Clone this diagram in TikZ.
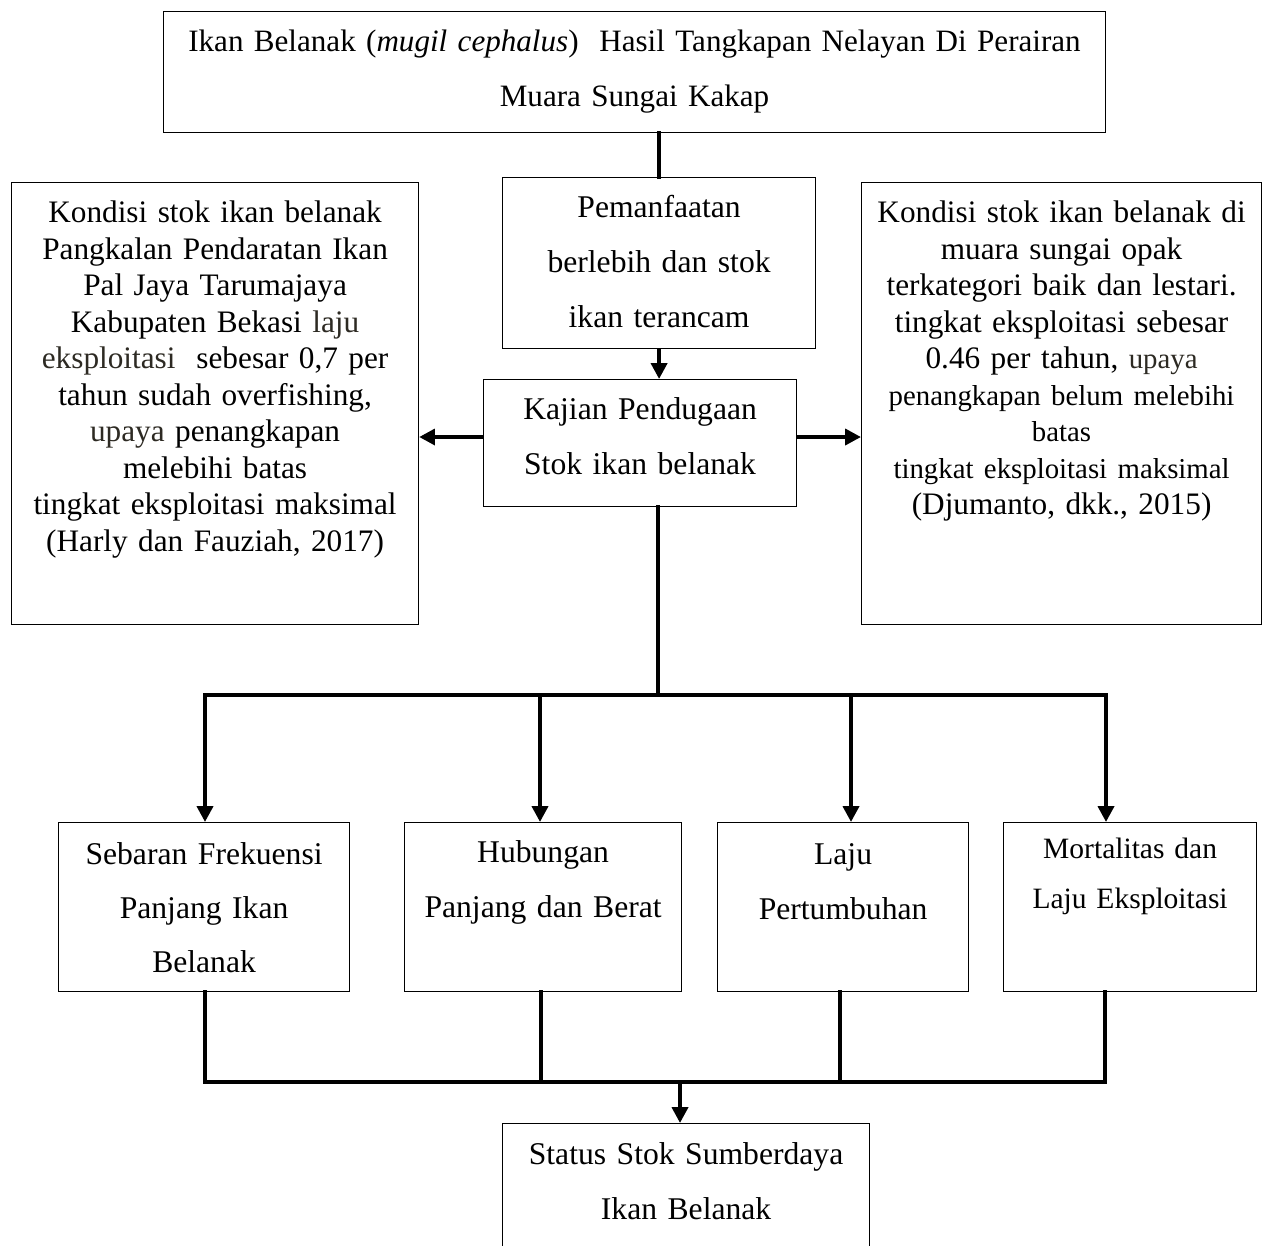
\documentclass[tikz,border=0pt]{standalone}
\usepackage{fontspec}
\setmainfont{Liberation Serif}
\usepackage{xcolor}
\usepackage{tikz}
\usetikzlibrary{positioning}
\usetikzlibrary{arrows.meta}
\usetikzlibrary{calc}

\definecolor{softblack}{RGB}{45,42,35}
\newcommand{\smallfs}{\fontsize{16.4pt}{18.5pt}\selectfont}

\begin{document}
\begin{tikzpicture}[x=0.02cm, y=-0.02cm,
            box/.style={draw=black, line width=0.7pt, inner sep=0pt, anchor=north west,
            align=center, text height=0.8cm},
            main/.style={box, font=\fontsize{18pt}{31.3pt}\selectfont},
            info/.style={box, font=\fontsize{17.8pt}{20.8pt}\selectfont, text depth=8.04cm},
            line/.style={line width=2.2pt, line cap=rect},
            arrow/.style={line width=2.2pt, -{Triangle[length=9pt,width=9pt]}}]
            \useasboundingbox (0,0) rectangle (1263,1245);
            \clip (0,0) rectangle (1263,1245);

            \node[main, font=\fontsize{17.7pt}{31.3pt}\selectfont, text width=18.84cm, text depth=1.62cm]
                (tangkapan) at (163,11)
                {Ikan Belanak (\textit{mugil cephalus})\ \ Hasil Tangkapan Nelayan Di Perairan\\Muara Sungai Kakap};
            \node[main, text width=6.26cm, text depth=2.62cm] (pemanfaatan) at (502,177)
                {Pemanfaatan\\berlebih dan stok\\ikan terancam};
            \node[main, text width=6.26cm, text depth=1.74cm] (kajian) at (483,379)
                {Kajian Pendugaan\\Stok ikan belanak};
            \node[info, text width=8.14cm] (kiri) at (11,182)
                {Kondisi stok ikan belanak\\Pangkalan Pendaratan Ikan\\Pal Jaya Tarumajaya\\Kabupaten Bekasi \textcolor{softblack}{laju}\\\textcolor{softblack}{eksploitasi}\ \ sebesar 0,7 per\\tahun sudah overfishing,\\\textcolor{softblack}{upaya} penangkapan\\melebihi batas\\tingkat eksploitasi maksimal\\(Harly dan Fauziah, 2017)};
            \node[info, text width=8.0cm] (kanan) at (861,182)
                {Kondisi stok ikan belanak di\\muara sungai opak\\terkategori baik dan lestari.\\tingkat eksploitasi sebesar\\0.46 per tahun, {\smallfs\color{softblack}upaya}\\{\smallfs penangkapan belum melebihi}\\{\smallfs batas}\\{\smallfs tingkat eksploitasi maksimal}\\(Djumanto, dkk., 2015)};
            \node[main, font=\fontsize{18pt}{30.7pt}\selectfont, text width=5.82cm, text height=0.84cm,
                text depth=2.54cm] (sebaran) at (58,822) {Sebaran Frekuensi\\Panjang Ikan\\Belanak};
            \node[main, font=\fontsize{18pt}{31pt}\selectfont, text width=5.54cm, text depth=2.58cm]
                (hubungan) at (404,822) {Hubungan\\Panjang dan Berat};
            \node[main, font=\fontsize{18pt}{31pt}\selectfont, text width=5.02cm, text height=0.84cm,
                text depth=2.54cm] (laju) at (717,822) {Laju\\Pertumbuhan};
            \node[box, font=\fontsize{16.8pt}{28.5pt}\selectfont, text width=5.06cm, text height=0.72cm,
                text depth=2.66cm] (mortalitas) at (1003,822) {Mortalitas dan\\Laju Eksploitasi};
            \node[main, text width=7.34cm, text height=0.82cm, text depth=4cm] (status) at (502,1123)
                {Status Stok Sumberdaya\\Ikan Belanak};

            % percabangan
            \coordinate (pusat) at (658,695);
            \coordinate (kiripanah) at (483,437);
            \coordinate (kananpanah) at (796,437);
            \coordinate (cab1) at (205,695);
            \coordinate (cab2) at (540,695);
            \coordinate (cab3) at (851,695);
            \coordinate (cab4) at (1106,695);
            \coordinate (gab1) at (205,1082);
            \coordinate (gab2) at (541,1082);
            \coordinate (gab3) at (840,1082);
            \coordinate (gab4) at (1105,1082);
            \coordinate (gabung) at (680,1082);

            \draw[line] (tangkapan.south -| pemanfaatan.north) -- (pemanfaatan.north);
            \draw[arrow] (pemanfaatan.south) -- (pemanfaatan.south |- kajian.north);
            \draw[arrow] (kiripanah) -- (kiripanah -| kiri.east);
            \draw[arrow] (kananpanah) -- (kananpanah -| kanan.west);
            \draw[line] (kajian.south -| pusat) -- (pusat);
            \draw[line] (cab1) -- (cab4);
            \draw[arrow] (cab1) -- (cab1 |- sebaran.north);
            \draw[arrow] (cab2) -- (cab2 |- hubungan.north);
            \draw[arrow] (cab3) -- (cab3 |- laju.north);
            \draw[arrow] (cab4) -- (cab4 |- mortalitas.north);
            \draw[line] (gab1 |- sebaran.south) -- (gab1);
            \draw[line] (gab2 |- hubungan.south) -- (gab2);
            \draw[line] (gab3 |- laju.south) -- (gab3);
            \draw[line] (gab4 |- mortalitas.south) -- (gab4);
            \draw[line] (gab1) -- (gab4);
            \draw[arrow] (gabung) -- (gabung |- status.north);
        \end{tikzpicture}
\end{document}
